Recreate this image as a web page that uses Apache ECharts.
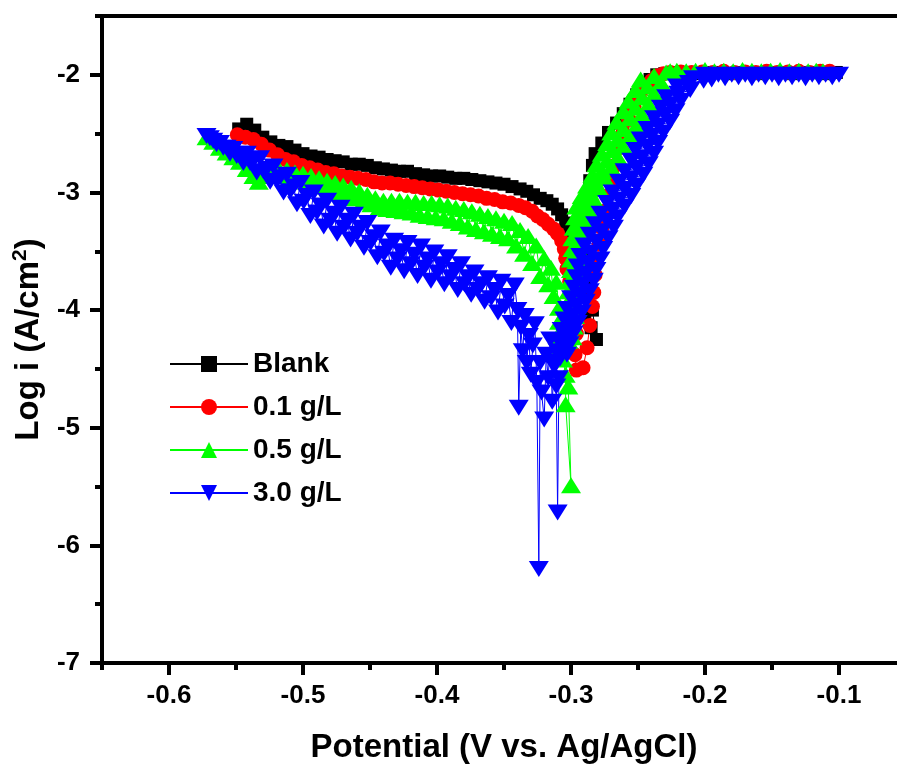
<!DOCTYPE html>
<html>
<head>
<meta charset="utf-8">
<title>Tafel</title>
<script src="https://cdn.jsdelivr.net/npm/echarts@6/dist/echarts.min.js"></script>
<style>
  html, body { margin: 0; padding: 0; background: #fff; }
  #main { width: 897px; height: 765px; }
</style>
</head>
<body>
<div id="main"></div>
<script>
// potential (V vs. Ag/AgCl), log i
var blank = [
  [-0.548,-2.46],[-0.542,-2.42],[-0.536,-2.47],[-0.530,-2.53],[-0.524,-2.57],[-0.518,-2.60],[-0.512,-2.61],[-0.506,-2.64],
  [-0.500,-2.67],[-0.494,-2.69],[-0.488,-2.70],[-0.482,-2.72],[-0.476,-2.73],[-0.470,-2.74],[-0.464,-2.76],[-0.458,-2.76],
  [-0.452,-2.77],[-0.446,-2.79],[-0.440,-2.80],[-0.434,-2.81],[-0.428,-2.82],[-0.422,-2.82],[-0.416,-2.84],[-0.410,-2.85],
  [-0.404,-2.86],[-0.398,-2.86],[-0.392,-2.87],[-0.386,-2.88],[-0.380,-2.88],[-0.374,-2.89],[-0.368,-2.90],[-0.362,-2.91],
  [-0.356,-2.92],[-0.350,-2.93],[-0.344,-2.95],[-0.338,-2.97],[-0.333,-2.99],[-0.328,-3.02],[-0.323,-3.05],[-0.318,-3.07],
  [-0.314,-3.10],[-0.310,-3.14],[-0.307,-3.19],[-0.304,-3.26],[-0.302,-3.34],[-0.299,-3.43],[-0.297,-3.53],[-0.292,-3.64],
  [-0.286,-3.74],[-0.288,-3.88],[-0.290,-4.04],[-0.285,-4.15],[-0.281,-4.25],
  [-0.284,-4.00],[-0.287,-3.78],[-0.289,-3.55],[-0.290,-3.32],[-0.288,-3.07],[-0.286,-2.90],[-0.284,-2.77],[-0.282,-2.67],
  [-0.277,-2.58],[-0.272,-2.49],[-0.266,-2.41],[-0.261,-2.33],[-0.256,-2.25],[-0.251,-2.17],[-0.246,-2.10],[-0.241,-2.04],
  [-0.236,-2.00],[-0.230,-1.99],[-0.222,-1.98],[-0.214,-1.98],[-0.206,-1.99],[-0.198,-1.98],[-0.190,-1.98],[-0.182,-1.99],
  [-0.174,-1.98],[-0.166,-1.98],[-0.158,-1.99],[-0.150,-1.98],[-0.142,-1.98],[-0.134,-1.99],[-0.126,-1.98],[-0.118,-1.98],
  [-0.110,-1.99],[-0.102,-1.98]
];
var g01 = [
  [-0.549,-2.51],[-0.543,-2.53],[-0.537,-2.55],[-0.531,-2.59],[-0.525,-2.64],[-0.519,-2.68],[-0.513,-2.72],[-0.507,-2.74],
  [-0.501,-2.77],[-0.495,-2.79],[-0.489,-2.81],[-0.483,-2.83],[-0.477,-2.84],[-0.471,-2.86],[-0.465,-2.87],[-0.459,-2.88],
  [-0.453,-2.89],[-0.447,-2.91],[-0.441,-2.92],[-0.435,-2.92],[-0.429,-2.93],[-0.423,-2.94],[-0.417,-2.95],[-0.411,-2.96],
  [-0.405,-2.97],[-0.399,-2.98],[-0.393,-2.99],[-0.387,-3.00],[-0.381,-3.01],[-0.375,-3.02],[-0.369,-3.03],[-0.363,-3.05],
  [-0.357,-3.06],[-0.351,-3.08],[-0.345,-3.09],[-0.339,-3.11],[-0.334,-3.13],[-0.329,-3.16],[-0.325,-3.20],[-0.321,-3.23],
  [-0.317,-3.27],[-0.313,-3.31],[-0.310,-3.35],[-0.307,-3.41],[-0.305,-3.48],[-0.304,-3.56],[-0.303,-3.65],[-0.301,-3.76],
  [-0.298,-3.88],[-0.296,-4.02],[-0.296,-4.20],[-0.297,-4.38],[-0.296,-4.51],[-0.291,-4.49],[-0.288,-4.32],[-0.286,-4.13],
  [-0.284,-3.97],[-0.283,-3.85],[-0.282,-3.70],[-0.281,-3.58],[-0.279,-3.44],[-0.277,-3.30],[-0.275,-3.16],[-0.273,-3.03],
  [-0.270,-2.90],[-0.267,-2.77],[-0.264,-2.62],[-0.261,-2.49],[-0.257,-2.38],[-0.253,-2.28],[-0.249,-2.19],[-0.245,-2.11],
  [-0.240,-2.05],[-0.236,-2.01],[-0.231,-1.99],[-0.226,-1.98],[-0.218,-1.975],[-0.210,-1.98],[-0.202,-1.975],[-0.194,-1.98],
  [-0.186,-1.97],[-0.178,-1.98],[-0.170,-1.975],[-0.162,-1.98],[-0.154,-1.97],[-0.146,-1.98],[-0.138,-1.975],[-0.130,-1.97],
  [-0.122,-1.98],[-0.114,-1.97],[-0.107,-1.97]
];
var g05 = [
  [-0.572,-2.53],[-0.567,-2.57],[-0.562,-2.62],[-0.557,-2.66],[-0.552,-2.70],[-0.547,-2.74],[-0.542,-2.80],[-0.537,-2.86],
  [-0.533,-2.91],[-0.529,-2.86],
  [-0.524,-2.79],[-0.521,-2.84],[-0.518,-2.80],[-0.515,-2.86],[-0.512,-2.81],[-0.509,-2.88],[-0.506,-2.83],[-0.503,-2.89],
  [-0.500,-2.84],[-0.497,-2.91],[-0.494,-2.86],[-0.491,-2.93],[-0.488,-2.88],[-0.485,-2.95],[-0.482,-2.90],[-0.479,-2.97],
  [-0.476,-2.92],[-0.473,-3.00],[-0.470,-2.94],[-0.467,-3.02],[-0.464,-2.96],[-0.461,-3.05],[-0.458,-2.99],[-0.455,-3.08],
  [-0.452,-3.02],[-0.449,-3.10],[-0.446,-3.05],[-0.443,-3.13],[-0.440,-3.07],[-0.437,-3.14],[-0.434,-3.07],[-0.431,-3.15],
  [-0.428,-3.07],[-0.425,-3.16],[-0.422,-3.08],[-0.419,-3.17],[-0.416,-3.08],[-0.413,-3.19],[-0.410,-3.09],[-0.407,-3.20],
  [-0.404,-3.09],[-0.401,-3.21],[-0.398,-3.10],[-0.395,-3.22],[-0.392,-3.11],[-0.389,-3.24],[-0.386,-3.13],[-0.383,-3.26],
  [-0.380,-3.14],[-0.377,-3.29],[-0.374,-3.16],[-0.371,-3.31],[-0.368,-3.18],[-0.365,-3.33],[-0.362,-3.20],[-0.359,-3.35],
  [-0.356,-3.22],[-0.353,-3.37],[-0.350,-3.24],[-0.347,-3.39],[-0.344,-3.26],[-0.341,-3.45],[-0.338,-3.32],[-0.335,-3.52],
  [-0.332,-3.37],[-0.329,-3.60],[-0.326,-3.45],[-0.323,-3.71],[-0.320,-3.56],[-0.317,-3.78],[-0.315,-3.64],[-0.313,-3.88],
  [-0.311,-3.76],[-0.309,-3.98],
  [-0.309,-4.10],[-0.310,-4.22],[-0.308,-4.32],[-0.306,-4.42],[-0.304,-4.55],[-0.304,-4.80],[-0.300,-5.49],[-0.302,-4.65],
  [-0.305,-4.29],[-0.302,-4.26],[-0.299,-4.23],[-0.304,-4.20],[-0.301,-4.17],[-0.298,-4.14],[-0.304,-4.11],[-0.300,-4.08],
  [-0.297,-4.05],[-0.303,-4.02],[-0.300,-3.99],[-0.296,-3.96],[-0.302,-3.93],[-0.299,-3.90],[-0.296,-3.87],[-0.302,-3.84],
  [-0.298,-3.81],[-0.295,-3.78],[-0.301,-3.75],[-0.298,-3.72],[-0.294,-3.69],[-0.300,-3.66],[-0.297,-3.63],[-0.294,-3.60],
  [-0.300,-3.57],[-0.296,-3.54],[-0.293,-3.51],[-0.299,-3.48],[-0.296,-3.45],[-0.292,-3.42],[-0.299,-3.39],[-0.294,-3.36],
  [-0.290,-3.33],[-0.298,-3.30],[-0.293,-3.27],[-0.288,-3.24],[-0.297,-3.21],[-0.292,-3.18],[-0.287,-3.15],[-0.296,-3.12],
  [-0.290,-3.09],[-0.283,-3.06],[-0.292,-3.03],[-0.286,-3.00],[-0.279,-2.97],[-0.288,-2.94],[-0.282,-2.91],[-0.275,-2.88],
  [-0.284,-2.85],[-0.277,-2.82],[-0.270,-2.79],[-0.281,-2.76],[-0.273,-2.73],[-0.265,-2.70],[-0.277,-2.67],[-0.269,-2.64],
  [-0.261,-2.61],[-0.273,-2.58],[-0.265,-2.55],[-0.256,-2.52],[-0.270,-2.49],[-0.261,-2.46],[-0.251,-2.43],[-0.266,-2.40],
  [-0.256,-2.37],[-0.247,-2.34],[-0.261,-2.31],[-0.252,-2.28],[-0.242,-2.25],[-0.257,-2.22],[-0.247,-2.19],[-0.238,-2.16],
  [-0.252,-2.13],[-0.243,-2.10],[-0.233,-2.07],[-0.248,-2.04],[-0.238,-2.01],[-0.229,-1.98],[-0.232,-2.08],[-0.226,-1.97],
  [-0.221,-1.965],[-0.214,-1.97],[-0.207,-1.965],[-0.200,-1.96],[-0.193,-1.97],[-0.186,-1.965],[-0.179,-1.97],[-0.172,-1.96],
  [-0.165,-1.965],[-0.158,-1.97],[-0.151,-1.965],[-0.144,-1.96],[-0.137,-1.97],[-0.130,-1.965],[-0.123,-1.97],[-0.117,-1.965],
  [-0.112,-1.97]
];
var g30 = [
  [-0.5720,-2.52],[-0.5695,-2.54],[-0.5670,-2.56],[-0.5645,-2.59],[-0.5620,-2.58],[-0.5595,-2.62],[-0.5570,-2.62],[-0.5545,-2.67],
  [-0.5520,-2.63],[-0.5495,-2.69],[-0.5470,-2.67],[-0.5445,-2.75],[-0.5420,-2.67],[-0.5395,-2.75],[-0.5370,-2.73],[-0.5345,-2.83],
  [-0.5320,-2.71],[-0.5295,-2.82],[-0.5270,-2.80],[-0.5245,-2.91],[-0.5220,-2.78],[-0.5195,-2.90],[-0.5170,-2.87],[-0.5145,-3.00],
  [-0.5120,-2.85],[-0.5095,-2.99],[-0.5070,-2.95],[-0.5045,-3.10],[-0.5020,-2.92],[-0.4995,-3.08],[-0.4970,-3.03],[-0.4945,-3.20],
  [-0.4920,-3.00],[-0.4895,-3.17],[-0.4870,-3.11],[-0.4845,-3.29],[-0.4820,-3.07],[-0.4795,-3.24],[-0.4770,-3.18],[-0.4745,-3.35],
  [-0.4720,-3.13],[-0.4695,-3.30],[-0.4670,-3.24],[-0.4645,-3.40],[-0.4620,-3.19],[-0.4595,-3.35],[-0.4570,-3.30],[-0.4545,-3.47],
  [-0.4520,-3.26],[-0.4495,-3.43],[-0.4470,-3.38],[-0.4445,-3.55],[-0.4420,-3.34],[-0.4395,-3.52],[-0.4370,-3.46],[-0.4345,-3.64],
  [-0.4320,-3.41],[-0.4295,-3.57],[-0.4270,-3.50],[-0.4245,-3.67],[-0.4220,-3.43],[-0.4195,-3.61],[-0.4170,-3.53],[-0.4145,-3.71],
  [-0.4120,-3.46],[-0.4095,-3.64],[-0.4070,-3.57],[-0.4045,-3.75],[-0.4020,-3.51],[-0.3995,-3.68],[-0.3970,-3.61],[-0.3945,-3.78],
  [-0.3920,-3.55],[-0.3895,-3.72],[-0.3870,-3.66],[-0.3845,-3.83],[-0.3820,-3.61],[-0.3795,-3.78],[-0.3770,-3.72],[-0.3745,-3.87],
  [-0.3720,-3.68],[-0.3695,-3.83],[-0.3670,-3.78],[-0.3645,-3.93],[-0.3620,-3.73],[-0.3595,-3.90],[-0.3570,-3.83],[-0.3545,-4.02],
  [-0.3520,-3.76],[-0.3495,-3.97],[-0.3470,-3.88],[-0.3445,-4.11],[-0.3420,-3.79],
  [-0.3400,-4.00],[-0.3390,-4.83],[-0.3375,-4.15],[-0.3360,-4.35],[-0.3345,-4.05],[-0.3330,-4.45],[-0.3315,-4.22],[-0.3300,-4.55],
  [-0.3285,-4.30],[-0.3270,-4.12],[-0.3255,-4.62],[-0.3240,-6.20],[-0.3230,-4.45],[-0.3220,-4.70],[-0.3200,-4.93],[-0.3185,-4.38],
  [-0.3170,-4.58],[-0.3155,-4.25],[-0.3140,-4.78],[-0.3125,-4.48],[-0.3110,-4.65],[-0.3100,-5.72],[-0.3090,-4.58],
  [-0.313,-4.44],[-0.308,-4.41],[-0.303,-4.38],[-0.310,-4.35],[-0.306,-4.32],[-0.301,-4.29],[-0.308,-4.26],[-0.304,-4.23],
  [-0.298,-4.20],[-0.307,-4.17],[-0.301,-4.14],[-0.295,-4.11],[-0.305,-4.08],[-0.299,-4.05],[-0.292,-4.02],[-0.303,-3.99],
  [-0.296,-3.96],[-0.289,-3.93],[-0.300,-3.90],[-0.293,-3.87],[-0.286,-3.84],[-0.298,-3.81],[-0.291,-3.78],[-0.283,-3.75],
  [-0.296,-3.72],[-0.289,-3.69],[-0.281,-3.66],[-0.295,-3.63],[-0.287,-3.60],[-0.278,-3.57],[-0.293,-3.54],[-0.285,-3.51],
  [-0.276,-3.48],[-0.290,-3.45],[-0.281,-3.42],[-0.272,-3.39],[-0.286,-3.36],[-0.277,-3.33],[-0.268,-3.30],[-0.282,-3.27],
  [-0.273,-3.24],[-0.265,-3.21],[-0.278,-3.18],[-0.269,-3.15],[-0.260,-3.12],[-0.273,-3.09],[-0.264,-3.06],[-0.255,-3.03],
  [-0.269,-3.00],[-0.260,-2.97],[-0.251,-2.94],[-0.264,-2.91],[-0.255,-2.88],[-0.246,-2.85],[-0.260,-2.82],[-0.251,-2.79],
  [-0.242,-2.76],[-0.255,-2.73],[-0.247,-2.70],[-0.238,-2.67],[-0.252,-2.64],[-0.243,-2.61],[-0.235,-2.58],[-0.248,-2.55],
  [-0.240,-2.52],[-0.231,-2.49],[-0.243,-2.46],[-0.235,-2.43],[-0.226,-2.40],[-0.238,-2.37],[-0.230,-2.34],[-0.222,-2.31],
  [-0.233,-2.28],[-0.226,-2.25],[-0.218,-2.22],[-0.229,-2.19],[-0.220,-2.16],[-0.211,-2.13],[-0.221,-2.10],[-0.212,-2.07],
  [-0.201,-2.05],[-0.209,-2.03],
  [-0.200,-2.00],[-0.195,-2.04],[-0.190,-2.00],[-0.185,-2.03],[-0.180,-2.00],[-0.175,-2.02],[-0.170,-2.00],[-0.165,-2.03],
  [-0.160,-2.00],[-0.155,-2.02],[-0.150,-2.00],[-0.145,-2.03],[-0.140,-2.00],[-0.135,-2.02],[-0.130,-2.00],[-0.125,-2.03],
  [-0.120,-2.00],[-0.115,-2.02],[-0.110,-2.00],[-0.105,-2.02],[-0.100,-2.00]
];

// tick positions
var xMajor = [-0.6, -0.5, -0.4, -0.3, -0.2, -0.1];
var xMinor = [-0.65, -0.55, -0.45, -0.35, -0.25, -0.15, -0.05];
var yMajor = [-7, -6, -5, -4, -3, -2];
var yMinor = [-6.5, -5.5, -4.5, -3.5, -2.5, -1.5];

var FONT = 'Liberation Sans';
var chart = echarts.init(document.getElementById('main'), null, { renderer: 'canvas' });

function mkSeries(name, data, color, symbol, size) {
  return {
    name: name,
    type: 'line',
    data: data,
    symbol: symbol,
    symbolSize: size,
    showSymbol: true,
    lineStyle: { width: 1, color: color },
    itemStyle: { color: color },
    emphasis: { disabled: true }
  };
}

var option = {
  animation: false,
  textStyle: { fontFamily: FONT },
  grid: {
    left: 102, top: 16, width: 804, height: 647,
    show: true, borderColor: '#000', borderWidth: 4,
    outerBoundsMode: 'none'
  },
  legend: {
    orient: 'vertical',
    left: 164, top: 345,
    itemWidth: 78, itemHeight: 20, itemGap: 15,
    textStyle: { fontSize: 28, fontWeight: 'bold', color: '#000', fontFamily: FONT, lineHeight: 28 },
    data: ['Blank', '0.1 g/L', '0.5 g/L', '3.0 g/L']
  },
  xAxis: [{
    type: 'value', min: -0.65, max: -0.05, position: 'bottom',
    name: 'Potential (V vs. Ag/AgCl)', nameLocation: 'middle', nameGap: 68,
    nameTextStyle: { fontSize: 33, fontWeight: 'bold', color: '#000', fontFamily: FONT },
    axisLine: { lineStyle: { color: '#000', width: 4 } },
    axisTick: { customValues: xMajor, length: 12, lineStyle: { width: 4, color: '#000' } },
    axisLabel: { customValues: xMajor, margin: 20, fontSize: 26, fontWeight: 'bold', color: '#000',
      formatter: function (v) { return v.toFixed(1); } },
    splitLine: { show: false }
  }, {
    // short ticks in between
    type: 'value', min: -0.65, max: -0.05, position: 'bottom',
    axisLine: { show: false },
    axisTick: { customValues: xMinor, length: 7, lineStyle: { width: 4, color: '#000' } },
    axisLabel: { show: false },
    splitLine: { show: false }
  }],
  yAxis: [{
    type: 'value', min: -7, max: -1.5, position: 'left',
    name: '{a|Log i (A/cm}{s|2}{a|)}', nameLocation: 'middle', nameGap: 54,
    nameTextStyle: {
      rich: {
        a: { fontSize: 33, fontWeight: 'bold', color: '#000', fontFamily: FONT, lineHeight: 38 },
        s: { fontSize: 21, fontWeight: 'bold', color: '#000', fontFamily: FONT, lineHeight: 14, verticalAlign: 'top' }
      }
    },
    axisLine: { lineStyle: { color: '#000', width: 4 } },
    axisTick: { customValues: yMajor, length: 12, lineStyle: { width: 4, color: '#000' } },
    axisLabel: { customValues: yMajor, margin: 22, fontSize: 26, fontWeight: 'bold', color: '#000' },
    splitLine: { show: false }
  }, {
    type: 'value', min: -7, max: -1.5, position: 'left',
    axisLine: { show: false },
    axisTick: { customValues: yMinor, length: 7, lineStyle: { width: 4, color: '#000' } },
    axisLabel: { show: false },
    splitLine: { show: false }
  }],
  series: [
    mkSeries('Blank', blank, '#000000', 'rect', 13),
    mkSeries('0.1 g/L', g01, '#ff0000', 'circle', 15),
    mkSeries('0.5 g/L', g05, '#00ff00', 'triangle', [20, 16]),
    mkSeries('3.0 g/L', g30, '#0000ff', 'path://M0,0L20,0L10,17Z', [20, 16])
  ]
};
chart.setOption(option);
</script>
</body>
</html>
